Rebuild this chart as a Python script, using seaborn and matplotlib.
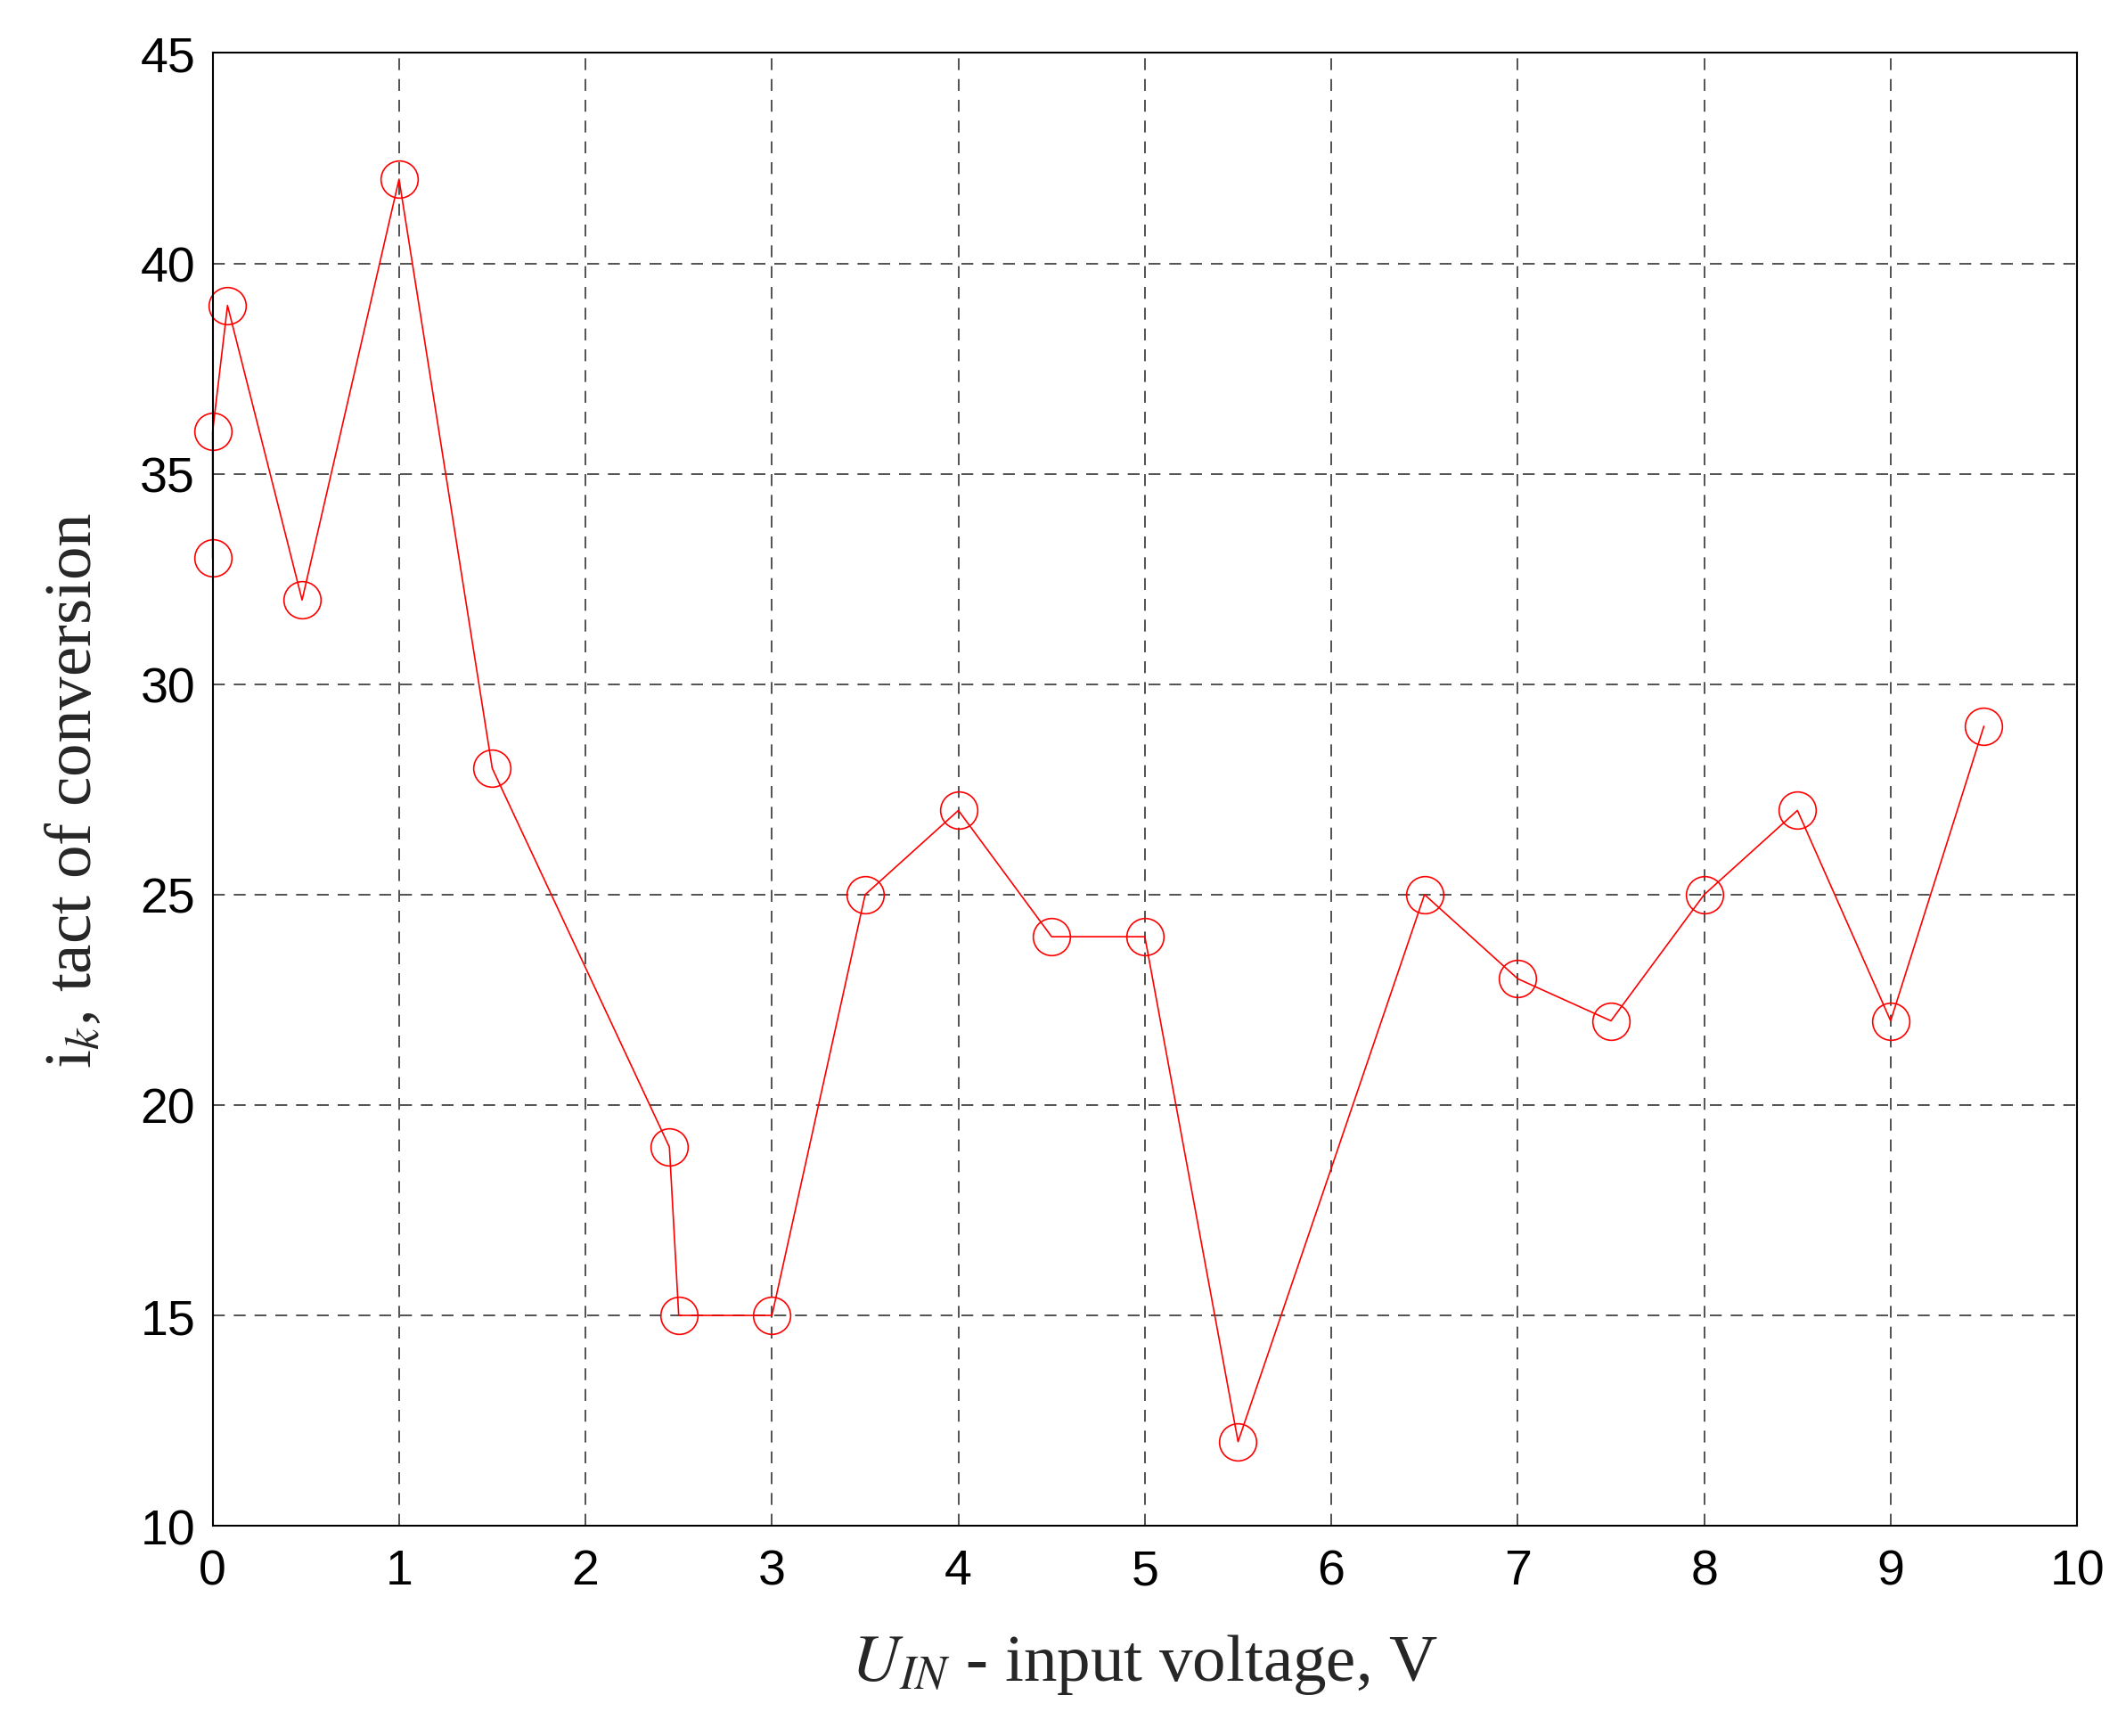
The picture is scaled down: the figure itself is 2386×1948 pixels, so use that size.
import matplotlib
matplotlib.use("Agg")
import matplotlib.pyplot as plt
import seaborn as sns
import pandas as pd

# values
u_in = [0, 0, 0.08, 0.48, 1, 1.5, 2.45, 2.5, 3, 3.5, 4, 4.5, 5, 5.5, 6.5, 7, 7.5, 8, 8.5, 9, 9.5]
i_k = [33, 36, 39, 32, 42, 28, 19, 15, 15, 25, 27, 24, 24, 12, 25, 23, 22, 25, 27, 22, 29]
x_ticks = list(range(0, 11))
y_ticks = list(range(10, 46, 5))

df = pd.DataFrame({"u": u_in, "i": i_k})

sns.set_style("white")
plt.rcParams["font.family"] = ["Liberation Sans", "DejaVu Sans"]
plt.rcParams["mathtext.fontset"] = "stix"

fig = plt.figure(figsize=(23.86, 19.49), dpi=100)
ax = fig.add_axes([0.100, 0.121, 0.877, 0.848])

sns.lineplot(data=df, x="u", y="i", sort=False, estimator=None, ax=ax,
             color="red", linewidth=1.2, marker="o", markersize=30,
             markerfacecolor="none", markeredgecolor="red", markeredgewidth=1.2,
             clip_on=False)

ax.set_xlim(0, 10)
ax.set_ylim(10, 45)
ax.set_xticks(x_ticks)
ax.set_yticks(y_ticks)
ax.tick_params(labelsize=40, labelcolor="black", direction="in", length=10, width=1.2)
ax.tick_params(axis="x", pad=18)
ax.tick_params(axis="y", pad=14)
ax.grid(True, color="black", linestyle=(0, (8, 6)), linewidth=1.2, alpha=0.8)
for s in ax.spines.values():
    s.set_color("black")
    s.set_linewidth(1.5)

ax.set_xlabel(r"$U_{IN}$ - input voltage, V", fontsize=54, family="Liberation Serif", labelpad=30)
ax.set_ylabel(r"i$_k$, tact of conversion", fontsize=54, family="Liberation Serif", labelpad=28)

fig.savefig("out.png", dpi=100)
